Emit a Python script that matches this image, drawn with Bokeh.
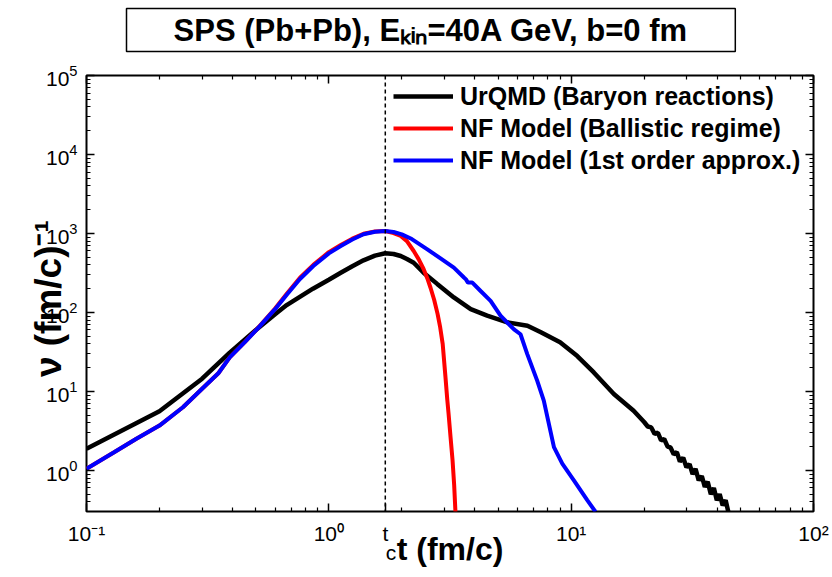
from bokeh.plotting import figure
from bokeh.models import (Range1d, FixedTicker, LogAxis, Span, Legend, LegendItem, Title,
                          CustomJSTickFormatter, LogTickFormatter)
from bokeh.embed import file_html
from bokeh.resources import INLINE

# ---------------- data ----------------
t_urqmd = [0.1, 0.2, 0.3, 0.39, 0.5, 0.6, 0.67, 0.86, 1.0, 1.12, 1.25, 1.39, 1.55, 1.71,
           1.85, 1.98, 2.1, 2.24, 2.46, 2.8, 3.28, 3.85, 4.5, 5.45, 6.6, 7.5, 9.0, 10.6,
           12.4, 15.0, 18.1, 20.0, 20.7, 21.4, 22.1, 22.8, 23.5, 24.2, 25.0, 25.7, 26.5,
           27.3, 28.1, 29.0, 29.9, 30.8, 31.7, 32.6, 33.6, 34.6, 35.6, 36.6, 37.7, 38.8,
           39.9, 41.0, 42.2, 43.4, 44.5]
v_urqmd = [1.88, 5.6, 14.5, 31, 60, 95, 124, 200, 260, 318, 385, 457, 525, 562,
           550, 519, 475, 426, 319, 230, 155, 110, 91, 75, 68, 56, 42, 28,
           17.4, 9.3, 5.7, 4.1, 3.6, 3.5, 2.9, 3.0, 2.4, 2.5, 2.0, 1.95, 1.6,
           1.7, 1.3, 1.45, 1.1, 1.2, 0.9, 1.05, 0.75, 0.85, 0.62, 0.72, 0.5, 0.6,
           0.42, 0.5, 0.36, 0.42, 0.3]

t_ballistic = [0.1, 0.13, 0.16, 0.2, 0.25, 0.3, 0.35, 0.39, 0.45, 0.506, 0.6, 0.673, 0.76,
               0.863, 1.0, 1.12, 1.25, 1.39, 1.55, 1.71, 1.85, 1.98, 2.1, 2.24, 2.35, 2.46,
               2.55, 2.63, 2.72, 2.81, 2.88, 2.95, 3.03, 3.08, 3.12, 3.18, 3.24, 3.29, 3.33]
v_ballistic = [1.05, 1.7, 2.5, 3.7, 6.3, 10.8, 17, 27, 42, 62, 112, 175, 275,
               400, 580, 715, 860, 990, 1060, 1075, 1010, 930, 800, 600, 470, 355,
               270, 204, 145, 96, 65, 40, 15, 8, 5.2, 2.6, 1.34, 0.65, 0.3]

t_first = [0.1, 0.13, 0.16, 0.2, 0.25, 0.3, 0.35, 0.39, 0.45, 0.506, 0.6, 0.673, 0.76,
           0.863, 1.0, 1.12, 1.25, 1.39, 1.55, 1.71, 1.85, 2.0, 2.2, 2.55, 2.9, 3.28,
           3.61, 3.68, 3.75, 3.91, 4.23, 4.65, 5.11, 5.81, 6.18, 6.59, 7.24, 7.71, 8.49,
           9.19, 10.26, 11.65, 12.6]
v_first = [1.05, 1.7, 2.5, 3.7, 6.3, 10.8, 17, 27, 42, 61.5, 110, 170, 265,
           387, 560, 692, 840, 976, 1050, 1072, 1045, 975, 850, 630, 480, 369,
           277, 262, 239, 239, 187, 140, 91, 61, 53, 29.7, 13.7, 7.65, 1.97,
           1.22, 0.75, 0.42, 0.30]

t_c = 1.71

x_ticks = [0.1, 1, 10, 100]
x_tick_labels = ["10\u207b\u00b9", "10\u2070", "10\u00b9", "10\u00b2"]
t_c_label = "t\n\u00a0\u00a0c"
y_ticks = [1, 10, 100, 1000, 10000, 100000]

series_names = ["UrQMD (Baryon reactions)", "NF Model (Ballistic regime)",
                "NF Model (1st order approx.)"]
series_colors = ["black", "red", "blue"]

title_text = "SPS (Pb+Pb), E\u2096\u1d62\u2099=40A GeV, b=0 fm"
x_title = "t (fm/c)"
y_title = "\u03bd (fm/c)\u207b\u00b9"

# ---------------- figure ----------------
FL, FB = 86, 511          # frame left / bottom in page pixels
W, H = 830, 575
TF = "Liberation Sans"

p = figure(width=W, height=H, x_axis_type="log", y_axis_type="log",
           x_range=Range1d(0.1, 100), y_range=Range1d(0.302, 1e5),
           output_backend="svg", toolbar_location=None,
           min_border_left=86, min_border_right=W - 813, min_border_top=74,
           min_border_bottom=H - 511,
           title="\u00a0" * 5 + title_text + "\u00a0" * 5)
p.background_fill_color = "white"
p.border_fill_color = "white"
p.outline_line_color = "black"
p.outline_line_width = 2
p.xgrid.visible = False
p.ygrid.visible = False

# title in a framed box
p.title.text_font = TF
p.title.text_font_size = "31px"
p.title.text_font_style = "bold"
p.title.text_color = "black"
p.title.align = "left"
p.title.offset = 40
p.title.standoff = 12
p.title.border_line_color = "black"
p.title.border_line_width = 1.5
try:
    p.title.padding = 4
except Exception:
    pass

minor_x = [m * d for d in [0.1, 1, 10] for m in range(2, 10)]
minor_y = [m * 0.1 for m in range(3, 10)] + [m * d for d in [1, 10, 100, 1000, 10000] for m in range(2, 10)]


def style_axis(ax, ticks, minor):
    ax.ticker = FixedTicker(ticks=ticks, minor_ticks=minor)
    ax.axis_line_color = None
    ax.major_tick_in = 8
    ax.major_tick_out = 0
    ax.minor_tick_in = 4
    ax.minor_tick_out = 0
    ax.major_tick_line_width = 1.5
    ax.minor_tick_line_width = 1.2
    ax.major_tick_line_color = "black"
    ax.minor_tick_line_color = "black"
    ax.major_label_text_font = TF
    ax.major_label_text_font_size = "21px"
    ax.major_label_text_color = "black"
    ax.axis_label_text_font = TF
    ax.axis_label_text_font_style = "bold"
    ax.axis_label_text_color = "black"


# bottom axis: decades plus the t_c marker
xb = p.xaxis[0]
style_axis(xb, x_ticks + [t_c], minor_x)
xb.formatter = LogTickFormatter()
overrides = {tk: lb for tk, lb in zip(x_ticks, x_tick_labels)}
overrides[t_c] = t_c_label
xb.major_label_overrides = overrides
xb.major_label_standoff = 10
xb.major_label_text_line_height = 0.85
xb.axis_label = x_title
xb.axis_label_text_font_size = "32px"
xb.axis_label_standoff = -36

yl = p.yaxis[0]
style_axis(yl, y_ticks, minor_y)
yl.formatter = LogTickFormatter()
yl.major_label_standoff = 9
yl.axis_label = y_title + "\u00a0"
yl.axis_label_text_font_size = "37px"
yl.axis_label_standoff = -26

top_ax = LogAxis()
right_ax = LogAxis()
style_axis(top_ax, x_ticks, minor_x)
style_axis(right_ax, y_ticks, minor_y)
for ax in (top_ax, right_ax):
    ax.formatter = CustomJSTickFormatter(code="return ''")
    ax.major_label_standoff = 0
p.add_layout(top_ax, "above")
p.add_layout(right_ax, "right")
# empty spacer between the top axis and the boxed title
p.add_layout(Title(text="\u00a0", text_font_size="1px", standoff=15), "above")

# ---------------- curves ----------------
r_black = p.line(t_urqmd, v_urqmd, line_color=series_colors[0], line_width=4.5)
r_red = p.line(t_ballistic, v_ballistic, line_color=series_colors[1], line_width=4)
r_blue = p.line(t_first, v_first, line_color=series_colors[2], line_width=4)

p.add_layout(Span(location=t_c, dimension="height", line_color="black",
                  line_width=1.5, line_dash="4 3"))

legend = Legend(items=[LegendItem(label=series_names[0], renderers=[r_black]),
                       LegendItem(label=series_names[1], renderers=[r_red]),
                       LegendItem(label=series_names[2], renderers=[r_blue])],
                location=(393 - FL, FB - 176))
legend.label_text_font = TF
legend.label_text_font_style = "bold"
legend.label_text_font_size = "25px"
legend.label_text_color = "black"
legend.glyph_width = 60
legend.glyph_height = 32
legend.label_height = 32
legend.spacing = 0
legend.padding = 0
legend.margin = 0
legend.label_standoff = 7
legend.border_line_color = None
legend.background_fill_alpha = 0
p.add_layout(legend)

open("out.html", "w").write(file_html(p, INLINE))
